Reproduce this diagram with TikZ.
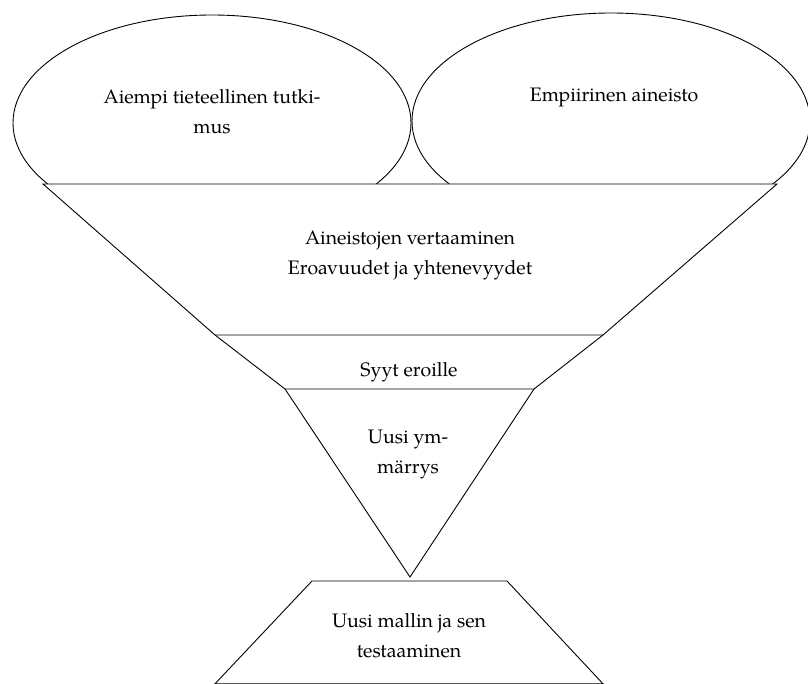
\documentclass[tikz,border=0pt]{standalone}
\usepackage{fontspec}
\setmainfont{TeX Gyre Pagella}
\usetikzlibrary{shapes.geometric}

\begin{document}
\begin{tikzpicture}[x=1pt,y=-1pt,line width=0.9pt,
  blob/.style={draw,ellipse,minimum width=398pt,minimum height=216pt,inner sep=0pt},
  txt/.style={align=center,font=\fontsize{19.5}{30}\selectfont}]
\useasboundingbox (0,0) rectangle (808,684);
% the two sources
\node[blob] (priorE) at (212,123) {};
\node[blob] (dataE) at (611,121) {};
% funnel corners
\coordinate (f1) at (43,184);
\coordinate (f2) at (777,184);
\coordinate (f3) at (603,335);
\coordinate (f4) at (215,335);
\coordinate (f5) at (285,389);
\coordinate (f6) at (534,389);
\coordinate (tip) at (410,577);
\draw[fill=white] (f1) -- (f2) -- (f3) -- (f4) -- cycle;
\draw (f4) -- (f5) -- (f6) -- (f3);
\draw (f5) -- (tip) -- (f6);
%%%%%%%%%%%%%%%% base
\coordinate (b1) at (312,581);
\coordinate (b2) at (507,581);
\coordinate (b3) at (603,683.8);
\coordinate (b4) at (215,683.8);
\draw (b1) -- (b2) -- (b3) -- (b4) -- cycle;
%%%%%%%%%%%%%%%% texts
\node[txt] (prior) at (212,112) {Aiempi tieteellinen tutki-\\mus};
\node[txt] (data) at (614,97) {Empiirinen aineisto};
\node[txt] (compare) at (410,255) {Aineistojen vertaaminen\\Eroavuudet ja yhtenevyydet};
\node[txt] (reasons) at (409,372) {Syyt eroille};
\node[txt] (insight) at (408,455) {Uusi ym-\\märrys};
\node[txt] (model) at (409,636) {Uusi mallin ja sen\\testaaminen};
\end{tikzpicture}
\end{document}
